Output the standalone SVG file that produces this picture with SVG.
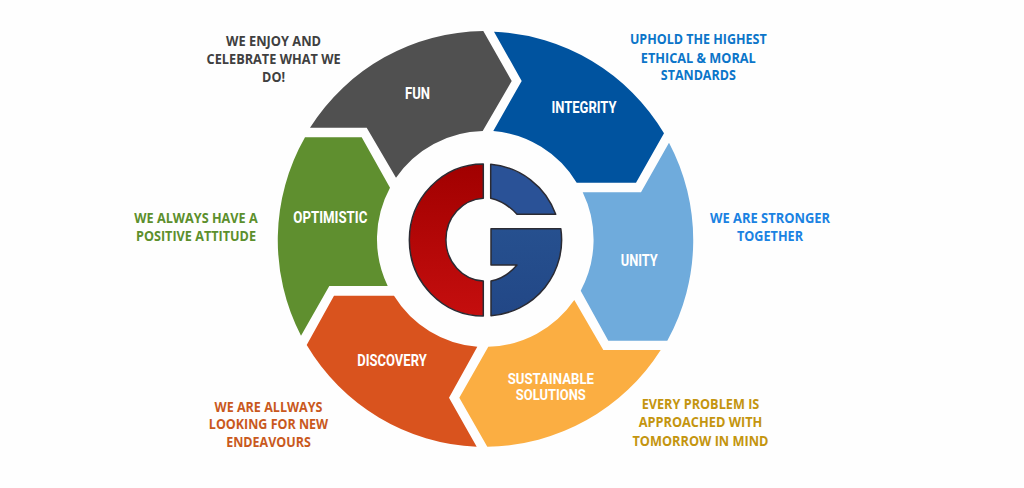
<svg xmlns="http://www.w3.org/2000/svg" width="1024" height="488" viewBox="0 0 1024 488">
<style>
.lab{font-family:"Roboto","Liberation Sans",sans-serif;font-weight:700;font-size:16px;fill:#fff;text-anchor:middle}
.lab2{font-size:14px}
.cap{font-family:"Open Sans","Liberation Sans",sans-serif;font-weight:700;font-size:13.8px;text-anchor:middle}
.logo{stroke:#2b2b33;stroke-width:1.5;stroke-linejoin:round}
</style>
<defs>
<linearGradient id="r" x1="0" y1="0" x2="0" y2="1"><stop offset="0" stop-color="#a10000"/><stop offset="1" stop-color="#c50e0e"/></linearGradient>
<linearGradient id="b" x1="0" y1="0" x2="0" y2="1"><stop offset="0" stop-color="#26508f"/><stop offset="1" stop-color="#224786"/></linearGradient>
</defs>
<rect width="1024" height="488" fill="#fefefe"/>
<g id="fun"><path fill="#505050" d="M483.3 31L511.7 81L482.7 131A108 108 0 0 0 396 177.7L366.7 127.7H310A208 208 0 0 1 483.3 31Z"/><text class="lab" x="417.5" y="99.3" textLength="25" lengthAdjust="spacingAndGlyphs">FUN</text>
<g class="cap" fill="#404040"><text x="273.6" y="45.7" textLength="95" lengthAdjust="spacingAndGlyphs">WE ENJOY AND</text><text x="273.6" y="63.7" textLength="134" lengthAdjust="spacingAndGlyphs">CELEBRATE WHAT WE</text><text x="273.6" y="81.7" textLength="23" lengthAdjust="spacingAndGlyphs">DO!</text></g></g>
<g id="integrity"><path fill="#00539f" d="M494 31.7A208 208 0 0 1 664 133.3L636 182.7H576.7A108 108 0 0 0 493.3 131L521.7 81Z"/><text class="lab" x="584" y="112.7" textLength="65" lengthAdjust="spacingAndGlyphs">INTEGRITY</text>
<g class="cap" fill="#0b75c9"><text x="698.3" y="44.3" textLength="136.7" lengthAdjust="spacingAndGlyphs">UPHOLD THE HIGHEST</text><text x="698.3" y="62.5" textLength="115" lengthAdjust="spacingAndGlyphs">ETHICAL &amp; MORAL</text><text x="698.3" y="80.3" textLength="75" lengthAdjust="spacingAndGlyphs">STANDARDS</text></g></g>
<g id="unity"><path fill="#6fabdc" d="M669 142.7A208 208 0 0 1 667.3 340.7H608.3L580.7 290.7A108 108 0 0 0 582.7 192.3H641Z"/><text class="lab" x="639.2" y="266" textLength="37" lengthAdjust="spacingAndGlyphs">UNITY</text>
<g class="cap" fill="#1a82e2"><text x="770" y="223.3" textLength="120" lengthAdjust="spacingAndGlyphs">WE ARE STRONGER</text><text x="770" y="241" textLength="66" lengthAdjust="spacingAndGlyphs">TOGETHER</text></g></g>
<g id="sustainable"><path fill="#fbae42" d="M660.7 350A208 208 0 0 1 487.3 446.7L459.3 397.7L488.3 346.7A108 108 0 0 0 574.3 300L603.3 350Z"/><text class="lab lab2" x="550.8" y="383.5" textLength="86.3" lengthAdjust="spacingAndGlyphs">SUSTAINABLE</text><text class="lab lab2" x="550.8" y="400" textLength="70" lengthAdjust="spacingAndGlyphs">SOLUTIONS</text>
<g class="cap" fill="#c4950f"><text x="700.5" y="409.3" textLength="117.7" lengthAdjust="spacingAndGlyphs">EVERY PROBLEM IS</text><text x="700.5" y="427.4" textLength="123.7" lengthAdjust="spacingAndGlyphs">APPROACHED WITH</text><text x="700.5" y="445.6" textLength="136" lengthAdjust="spacingAndGlyphs">TOMORROW IN MIND</text></g></g>
<g id="discovery"><path fill="#d9531e" d="M476.7 446.7A208 208 0 0 1 306.7 345L334 295.7H394A108 108 0 0 0 477.3 346.7L449 397.7Z"/><text class="lab" x="392" y="366" textLength="69.4" lengthAdjust="spacingAndGlyphs">DISCOVERY</text>
<g class="cap" fill="#c9591d"><text x="268.5" y="411.6" textLength="108" lengthAdjust="spacingAndGlyphs">WE ARE ALLWAYS</text><text x="268.5" y="429.4" textLength="119.3" lengthAdjust="spacingAndGlyphs">LOOKING FOR NEW</text><text x="268.5" y="447.3" textLength="84.7" lengthAdjust="spacingAndGlyphs">ENDEAVOURS</text></g></g>
<g id="optimistic"><path fill="#5f8f2f" d="M301 335.7A208 208 0 0 1 305 137.3H361.7L390 187.7A108 108 0 0 0 387.7 286H329.3Z"/><text class="lab" x="330.3" y="223.3" textLength="74" lengthAdjust="spacingAndGlyphs">OPTIMISTIC</text>
<g class="cap" fill="#5c8f2c"><text x="196" y="223.3" textLength="123.3" lengthAdjust="spacingAndGlyphs">WE ALWAYS HAVE A</text><text x="196" y="241" textLength="120" lengthAdjust="spacingAndGlyphs">POSITIVE ATTITUDE</text></g></g>
<g id="logo">
<path class="logo" fill="url(#r)" d="M483.3 164A74 76 0 0 0 483.3 316V281A39.3 41.4 0 0 1 483.3 198.3Z"/>
<path class="logo" fill="#2a5297" d="M490.7 164.3A76 76 0 0 1 555.7 214.3H517Q506 202 490.7 198.3Z"/>
<path class="logo" fill="url(#b)" d="M491 228.7H560.8A76 76 0 0 1 491 315.7V281Q506 278 517 265H491Z"/>
</g>
<g id="connectors"></g>
</svg>
